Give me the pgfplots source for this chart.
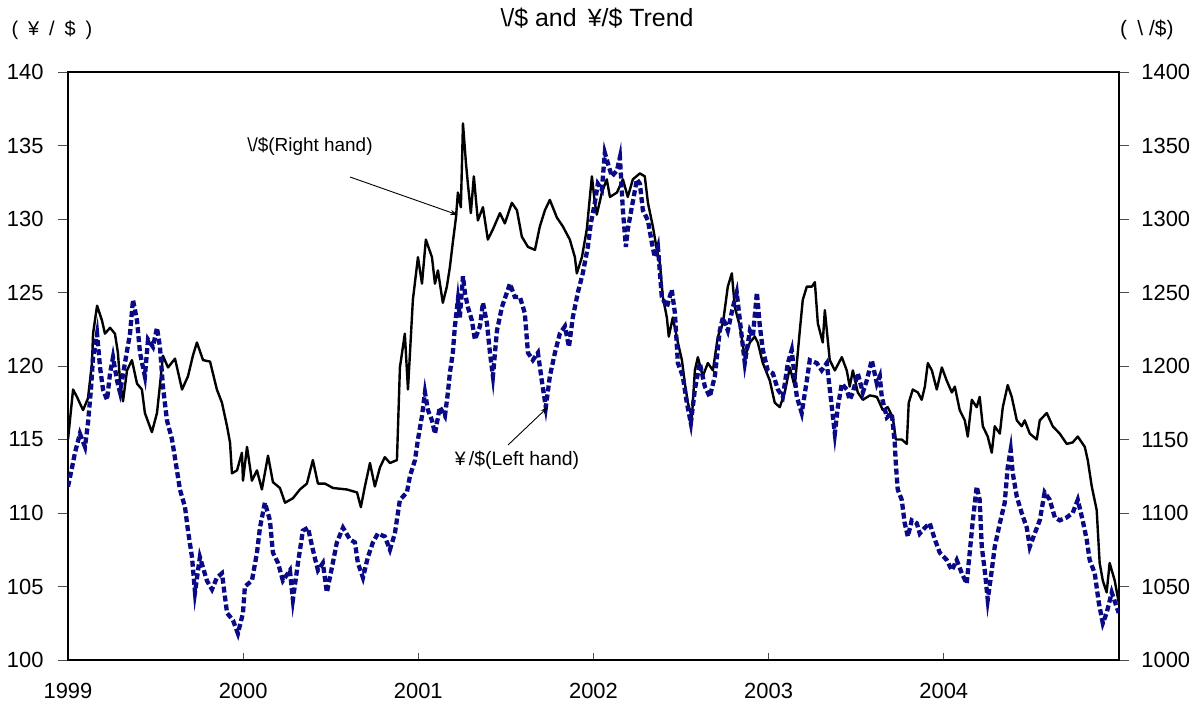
\documentclass[border=0pt]{standalone}
\usepackage{fontspec}
\setmainfont{Liberation Sans}
\usepackage{pgfplots}
\pgfplotsset{compat=1.18}
\usetikzlibrary{arrows.meta}
\definecolor{navyb}{RGB}{10,10,135}
\newcommand{\tickfont}{\fontsize{22}{24}\selectfont}
\begin{document}
\begin{tikzpicture}
\pgfplotsset{
  common/.style={
    at={(0,0)}, anchor=south west,
    scale only axis, width=1051bp, height=588bp,
    xmin=1999, xmax=2005,
    /pgf/number format/assume math mode=true,
    /pgf/number format/1000 sep={},
    ticklabel style={font=\tickfont},
    ytick align=outside,
    xtick align=inside,
    major tick length=10bp,
    axis line style={line width=1.2bp},
    tick style={line width=0.8bp,black!70},
  }
}
% right axis (won)
\begin{axis}[common,
  ymin=1000, ymax=1400, ytick={1000,1050,...,1400},
  ytick pos=right, yticklabel pos=right,
  yticklabel style={xshift=9bp},
  xtick=\empty,
]
\addplot[black, line width=2.4bp, line join=round] coordinates {
(1999.000,1150)(1999.029,1184)(1999.051,1179)(1999.086,1170)(1999.114,1178)(1999.137,1202)(1999.143,1222)(1999.166,1241)(1999.194,1231)(1999.211,1222)(1999.240,1226)(1999.268,1222)(1999.285,1209)(1999.297,1190)(1999.314,1176)(1999.337,1197)(1999.365,1204)(1999.394,1188)(1999.422,1184)(1999.439,1168)(1999.479,1155)(1999.508,1168)(1999.525,1187)(1999.542,1207)(1999.571,1199)(1999.611,1205)(1999.651,1184)(1999.685,1193)(1999.713,1207)(1999.736,1216)(1999.771,1204)(1999.811,1203)(1999.850,1184)(1999.879,1175)(1999.908,1159)(1999.925,1148)(1999.936,1127)(1999.965,1129)(1999.993,1141)(1999.999,1122)(2000.022,1145)(2000.050,1122)(2000.079,1129)(2000.107,1116)(2000.142,1139)(2000.170,1121)(2000.210,1117)(2000.239,1107)(2000.284,1110)(2000.324,1116)(2000.364,1120)(2000.398,1136)(2000.427,1120)(2000.467,1120)(2000.513,1117)(2000.592,1116)(2000.650,1114)(2000.672,1104)(2000.695,1118)(2000.724,1134)(2000.752,1118)(2000.781,1131)(2000.809,1138)(2000.838,1134)(2000.878,1136)(2000.895,1199)(2000.923,1222)(2000.941,1184)(2000.969,1245)(2000.998,1274)(2001.021,1256)(2001.043,1286)(2001.078,1274)(2001.095,1256)(2001.112,1265)(2001.140,1243)(2001.163,1254)(2001.180,1267)(2001.197,1284)(2001.215,1301)(2001.226,1318)(2001.243,1308)(2001.255,1365)(2001.272,1338)(2001.283,1324)(2001.300,1304)(2001.317,1329)(2001.340,1299)(2001.369,1308)(2001.397,1286)(2001.426,1293)(2001.466,1304)(2001.494,1297)(2001.534,1311)(2001.563,1306)(2001.591,1288)(2001.626,1281)(2001.666,1279)(2001.694,1295)(2001.723,1306)(2001.751,1313)(2001.791,1301)(2001.825,1295)(2001.865,1286)(2001.894,1274)(2001.905,1263)(2001.934,1274)(2001.962,1293)(2001.974,1308)(2001.991,1329)(2002.008,1311)(2002.019,1303)(2002.048,1318)(2002.076,1327)(2002.094,1315)(2002.134,1318)(2002.168,1327)(2002.196,1315)(2002.225,1327)(2002.265,1331)(2002.293,1329)(2002.311,1311)(2002.339,1295)(2002.362,1279)(2002.379,1270)(2002.396,1247)(2002.419,1233)(2002.430,1220)(2002.453,1233)(2002.482,1216)(2002.505,1204)(2002.522,1188)(2002.539,1175)(2002.562,1165)(2002.579,1197)(2002.596,1206)(2002.624,1193)(2002.653,1202)(2002.682,1197)(2002.710,1220)(2002.739,1229)(2002.767,1254)(2002.790,1263)(2002.807,1240)(2002.836,1227)(2002.864,1206)(2002.893,1216)(2002.921,1220)(2002.938,1216)(2002.967,1202)(2003.007,1190)(2003.035,1175)(2003.064,1172)(2003.092,1182)(2003.121,1199)(2003.149,1186)(2003.178,1224)(2003.195,1245)(2003.218,1254)(2003.247,1254)(2003.264,1257)(2003.281,1229)(2003.309,1216)(2003.321,1238)(2003.349,1204)(2003.378,1197)(2003.418,1206)(2003.446,1197)(2003.463,1186)(2003.481,1197)(2003.509,1182)(2003.538,1177)(2003.578,1180)(2003.618,1179)(2003.652,1170)(2003.680,1172)(2003.709,1165)(2003.726,1150)(2003.760,1150)(2003.789,1147)(2003.800,1175)(2003.823,1184)(2003.852,1182)(2003.874,1177)(2003.892,1186)(2003.909,1202)(2003.932,1197)(2003.960,1184)(2003.989,1199)(2004.017,1190)(2004.046,1182)(2004.063,1186)(2004.091,1170)(2004.120,1163)(2004.137,1152)(2004.160,1177)(2004.188,1172)(2004.205,1179)(2004.223,1159)(2004.251,1152)(2004.274,1141)(2004.291,1159)(2004.320,1154)(2004.337,1172)(2004.365,1187)(2004.388,1179)(2004.417,1163)(2004.445,1159)(2004.462,1163)(2004.491,1154)(2004.531,1150)(2004.548,1163)(2004.588,1168)(2004.622,1159)(2004.662,1154)(2004.702,1147)(2004.736,1148)(2004.765,1152)(2004.805,1145)(2004.822,1136)(2004.845,1118)(2004.873,1102)(2004.890,1066)(2004.908,1054)(2004.930,1046)(2004.947,1066)(2004.976,1054)(2004.999,1039)
};
\end{axis}
% left axis (yen)
\begin{axis}[common,
  ymin=100, ymax=140, ytick={100,105,...,140},
  ytick pos=left, yticklabel pos=left,
  yticklabel style={xshift=-11bp},
  xtick={1999,2000,2001,2002,2003,2004},
  xticklabels={1999,2000,2001,2002,2003,2004},
  xtick pos=bottom,
  xtick style={/pgfplots/major tick length=7bp},
  xticklabel style={yshift=-20bp},
]
\addplot[navyb, line width=4.3bp, dash pattern=on 6bp off 3bp] coordinates {
(1999.000,111.8)(1999.023,113.1)(1999.040,114.1)(1999.068,115.4)(1999.097,114.5)(1999.114,116.1)(1999.131,118.4)(1999.143,120.6)(1999.166,122.2)(1999.183,119.9)(1999.200,118.4)(1999.223,117.7)(1999.240,119.5)(1999.257,120.6)(1999.280,119.0)(1999.297,118.2)(1999.325,120.2)(1999.354,122.2)(1999.371,124.5)(1999.394,123.1)(1999.411,120.9)(1999.439,119.3)(1999.457,121.8)(1999.485,121.3)(1999.508,122.6)(1999.525,121.3)(1999.542,118.6)(1999.565,116.3)(1999.594,115.0)(1999.622,112.9)(1999.639,111.6)(1999.668,110.4)(1999.685,108.8)(1999.708,107.0)(1999.725,104.6)(1999.753,107.0)(1999.793,105.4)(1999.822,104.8)(1999.850,105.6)(1999.879,105.9)(1999.908,103.2)(1999.942,102.7)(1999.970,101.8)(1999.999,103.2)(2000.010,105.0)(2000.050,105.4)(2000.079,107.3)(2000.096,109.0)(2000.124,110.7)(2000.153,109.5)(2000.170,107.3)(2000.199,106.6)(2000.227,105.4)(2000.267,106.1)(2000.284,104.1)(2000.313,106.6)(2000.341,108.8)(2000.370,109.0)(2000.398,107.5)(2000.427,106.1)(2000.455,106.6)(2000.478,104.6)(2000.507,106.3)(2000.535,108.0)(2000.570,109.0)(2000.610,108.2)(2000.638,108.0)(2000.655,106.6)(2000.684,105.6)(2000.712,107.0)(2000.741,108.0)(2000.769,108.6)(2000.809,108.4)(2000.838,107.5)(2000.866,108.6)(2000.895,110.9)(2000.935,111.4)(2000.952,112.5)(2000.981,113.6)(2000.998,115.0)(2001.021,116.6)(2001.038,118.2)(2001.055,117.0)(2001.078,116.3)(2001.095,115.4)(2001.123,117.2)(2001.152,116.6)(2001.169,118.2)(2001.180,119.5)(2001.197,120.9)(2001.209,122.7)(2001.226,124.5)(2001.237,123.3)(2001.255,126.1)(2001.266,125.0)(2001.283,124.0)(2001.306,123.1)(2001.323,121.8)(2001.352,122.7)(2001.369,124.3)(2001.392,122.9)(2001.409,120.9)(2001.426,119.3)(2001.449,122.4)(2001.477,124.0)(2001.506,125.0)(2001.523,125.6)(2001.551,124.7)(2001.580,124.7)(2001.608,123.6)(2001.626,120.9)(2001.654,120.4)(2001.683,120.9)(2001.705,119.0)(2001.728,117.2)(2001.751,119.3)(2001.780,120.9)(2001.808,122.2)(2001.837,122.7)(2001.860,121.3)(2001.882,123.3)(2001.911,125.0)(2001.939,126.3)(2001.968,128.1)(2001.985,129.7)(2002.008,131.1)(2002.025,132.4)(2002.048,132.0)(2002.065,134.5)(2002.082,133.8)(2002.105,132.9)(2002.134,133.3)(2002.151,134.2)(2002.168,130.6)(2002.185,128.1)(2002.196,129.3)(2002.219,130.8)(2002.248,132.7)(2002.265,132.4)(2002.282,130.6)(2002.311,129.9)(2002.333,128.4)(2002.350,127.4)(2002.368,128.1)(2002.390,124.7)(2002.419,124.0)(2002.447,125.2)(2002.465,123.6)(2002.482,120.2)(2002.510,119.3)(2002.533,117.5)(2002.556,116.1)(2002.579,118.4)(2002.607,120.2)(2002.636,118.6)(2002.664,117.9)(2002.693,119.3)(2002.721,122.4)(2002.739,123.3)(2002.767,122.4)(2002.796,124.0)(2002.818,125.0)(2002.836,123.1)(2002.864,120.2)(2002.893,122.4)(2002.910,122.0)(2002.933,125.0)(2002.950,122.7)(2002.967,121.1)(2002.995,119.7)(2003.024,119.5)(2003.053,118.4)(2003.081,117.9)(2003.110,120.2)(2003.132,121.1)(2003.161,117.9)(2003.189,116.8)(2003.218,119.0)(2003.235,120.4)(2003.275,120.2)(2003.303,119.7)(2003.332,120.2)(2003.361,117.2)(2003.378,115.4)(2003.395,117.2)(2003.418,118.8)(2003.446,118.4)(2003.463,117.7)(2003.481,118.2)(2003.509,119.5)(2003.538,118.2)(2003.560,119.0)(2003.589,120.4)(2003.618,118.8)(2003.635,119.3)(2003.646,117.9)(2003.675,116.5)(2003.703,116.8)(2003.720,114.8)(2003.726,113.4)(2003.737,111.6)(2003.760,110.9)(2003.777,109.3)(2003.795,108.4)(2003.817,109.5)(2003.846,109.3)(2003.863,108.6)(2003.892,109.0)(2003.920,109.3)(2003.949,108.2)(2003.977,107.3)(2004.017,106.8)(2004.046,106.1)(2004.074,106.8)(2004.103,105.9)(2004.131,105.2)(2004.148,107.3)(2004.166,109.5)(2004.188,111.8)(2004.205,110.9)(2004.217,107.7)(2004.234,106.1)(2004.251,104.1)(2004.274,106.1)(2004.291,107.7)(2004.320,109.3)(2004.348,110.7)(2004.365,113.1)(2004.382,114.3)(2004.394,112.7)(2004.417,111.1)(2004.445,110.0)(2004.474,109.0)(2004.491,107.7)(2004.519,108.6)(2004.548,109.5)(2004.576,111.4)(2004.605,110.9)(2004.634,109.7)(2004.662,109.5)(2004.702,109.7)(2004.736,110.0)(2004.765,110.9)(2004.793,109.5)(2004.816,108.2)(2004.833,106.8)(2004.862,105.9)(2004.885,103.9)(2004.908,102.5)(2004.930,103.2)(2004.959,104.6)(2004.987,103.6)(2004.999,103.2)
};
\end{axis}
% texts and annotations (bp relative to the lower left corner of the plot area)
\node[font=\fontsize{25}{28}\selectfont] at (529bp,642bp) {\textbackslash/\$ and \,¥/\$ Trend};
\node[anchor=west, font=\fontsize{20}{22}\selectfont] at (-60bp,630bp) {(\enspace¥\enspace/\enspace\$\enspace)};
\node[anchor=east, font=\fontsize{21}{24}\selectfont] at (1109bp,630bp) {(\enspace\textbackslash\ /\$)};
\node[font=\fontsize{19}{22}\selectfont] at (242bp,514bp) {\textbackslash/\$(Right hand)};
\draw[line width=0.9bp, -{Stealth[length=8bp,width=5bp]}] (282bp,483bp) -- (390bp,445bp);
\node[font=\fontsize{19.5}{22}\selectfont] at (449bp,200bp) {¥\,/\$(Left hand)};
\draw[line width=0.9bp, -{Stealth[length=8bp,width=5bp]}] (440bp,215bp) -- (480bp,253bp);
\pgfresetboundingbox
\path (-68bp,-46bp) rectangle (1126bp,660bp);
\end{tikzpicture}
\end{document}
